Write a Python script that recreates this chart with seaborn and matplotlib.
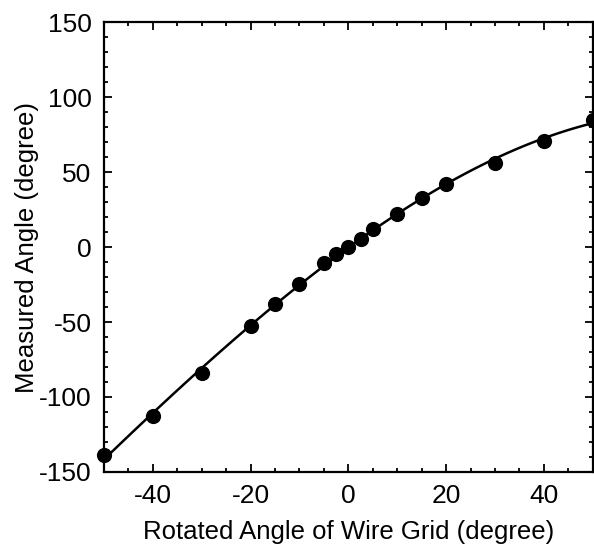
import numpy as np
import pandas as pd
import seaborn as sns
import matplotlib
matplotlib.use('Agg')
import matplotlib.pyplot as plt
from matplotlib.ticker import MultipleLocator

# rotated wire grid angle vs measured angle (degree)
rotated = [-50, -40, -30, -20, -15, -10, -5, -2.5, 0, 2.5, 5, 10, 15, 20, 30, 40, 50]
measured = [-139, -113, -84, -53, -38, -24.5, -10.7, -4.7, 0, 5.3, 12, 22, 32.5, 42, 56, 70.5, 85]

df = pd.DataFrame({'rotated': rotated, 'measured': measured})

sns.set_style('ticks')
plt.rcParams['font.family'] = ['Liberation Sans', 'DejaVu Sans']
plt.rcParams['axes.unicode_minus'] = False
plt.rcParams['text.color'] = 'black'
plt.rcParams['axes.labelcolor'] = 'black'

fig = plt.figure(figsize=(5.94, 5.52), dpi=100)
ax = fig.add_axes([0.175, 0.145, 0.823, 0.815])

# fitted curve
sns.regplot(x='rotated', y='measured', data=df, order=3, ci=None, scatter=False,
            truncate=True, color='black', line_kws={'linewidth': 1.8}, ax=ax)
# data points
sns.scatterplot(x='rotated', y='measured', data=df, color='black', s=120,
                edgecolor='black', linewidth=0, zorder=3, clip_on=False, ax=ax)

ax.set_xlim(-50, 50)
ax.set_ylim(-150, 150)
ax.xaxis.set_major_locator(MultipleLocator(20))
ax.xaxis.set_minor_locator(MultipleLocator(5))
ax.yaxis.set_major_locator(MultipleLocator(50))
ax.yaxis.set_minor_locator(MultipleLocator(10))
ax.tick_params(which='both', direction='in', top=True, right=True, width=1.3,
               labelsize=19, colors='black')
ax.tick_params(which='major', length=6, pad=9)
ax.tick_params(which='minor', length=3)
for s in ax.spines.values():
    s.set_linewidth(1.6)
    s.set_color('black')

ax.set_xlabel('Rotated Angle of Wire Grid (degree)', fontsize=18.5, labelpad=8)
ax.set_ylabel('Measured Angle (degree)', fontsize=18.5, labelpad=0)

fig.savefig('out.png', dpi=100)
